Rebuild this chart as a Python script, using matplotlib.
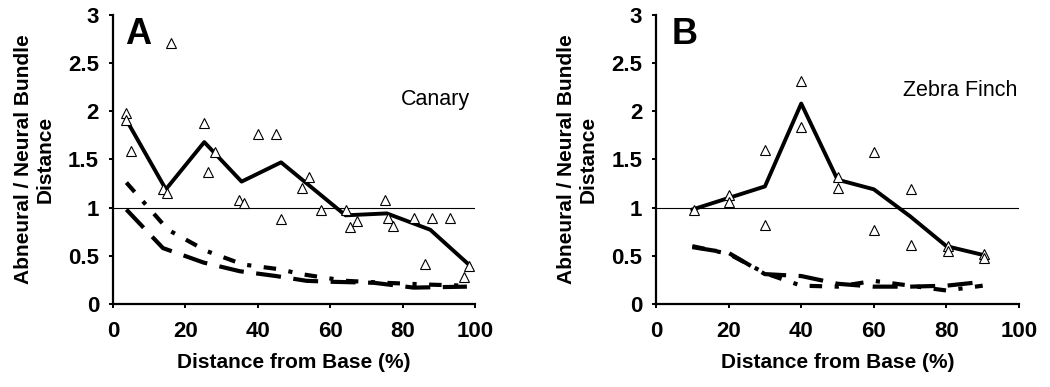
import matplotlib
matplotlib.use('Agg')
import matplotlib.pyplot as plt

plt.rcParams['font.family'] = ['Liberation Sans', 'DejaVu Sans']

# Panel A - Canary
canary_pts_x = [3.7, 3.7, 4.9, 15.9, 13.8, 15.0, 25.2, 26.1, 28.1, 34.8, 36.2, 40.1, 45.0, 46.4,
                52.1, 54.2, 57.3, 64.2, 65.3, 67.3, 75.1, 75.9, 77.2, 83.0, 86.0, 88.0, 93.1, 98.2, 97.0]
canary_pts_y = [1.98, 1.91, 1.59, 2.71, 1.19, 1.15, 1.88, 1.37, 1.58, 1.08, 1.05, 1.76, 1.76, 0.88,
                1.20, 1.32, 0.98, 0.98, 0.80, 0.86, 1.08, 0.89, 0.81, 0.89, 0.41, 0.89, 0.89, 0.39, 0.28]
canary_mean_x = [3.7, 14.6, 25.2, 35.5, 46.4, 64.2, 75.6, 87.6, 98.2]
canary_mean_y = [1.91, 1.19, 1.68, 1.27, 1.47, 0.92, 0.94, 0.77, 0.41]
canary_dash1_x = [3.7, 15.2, 25.8, 35.9, 46.0, 52.0, 57.1, 64.5, 75.0, 88.0, 97.7]
canary_dash1_y = [1.26, 0.77, 0.55, 0.41, 0.36, 0.31, 0.28, 0.24, 0.22, 0.20, 0.19]
canary_dash2_x = [3.7, 13.8, 25.0, 35.0, 45.0, 53.5, 60.8, 72.0, 83.0, 97.7]
canary_dash2_y = [0.98, 0.58, 0.43, 0.34, 0.29, 0.24, 0.23, 0.22, 0.17, 0.18]

# Panel B - Zebra Finch
zf_pts_x = [10.4, 20.0, 20.2, 30.1, 30.1, 40.0, 40.0, 50.0, 50.0, 60.0, 60.0, 70.2, 70.2, 80.3, 80.3, 90.4, 90.4]
zf_pts_y = [0.98, 1.13, 1.06, 1.60, 0.82, 2.31, 1.84, 1.32, 1.20, 1.58, 0.77, 1.19, 0.61, 0.60, 0.55, 0.52, 0.48]
zf_x = [10, 20, 30, 40, 50, 60, 70, 80, 90]
zf_mean_y = [0.98, 1.10, 1.22, 2.08, 1.29, 1.19, 0.91, 0.60, 0.51]
zf_dash1_y = [0.59, 0.53, 0.31, 0.29, 0.21, 0.18, 0.18, 0.19, 0.23]
zf_dash2_y = [0.60, 0.52, 0.32, 0.19, 0.18, 0.24, 0.19, 0.14, 0.19]

fig = plt.figure(figsize=(10.5, 3.87), dpi=100)
axA = fig.add_axes([0.1076, 0.2145, 0.345, 0.747])
axB = fig.add_axes([0.6248, 0.2145, 0.3457, 0.747])


def style(ax, letter, name, name_x, name_y, letter_x):
    ax.set_xlim(0, 100)
    ax.set_ylim(0, 3)
    ax.axhline(1, color='black', lw=0.8, zorder=1)
    for s in ['top', 'right']:
        ax.spines[s].set_visible(False)
    for s in ['left', 'bottom']:
        ax.spines[s].set_linewidth(1.6)
    ax.set_xticks([0, 20, 40, 60, 80, 100])
    ax.set_yticks([0, 0.5, 1, 1.5, 2, 2.5, 3])
    ax.set_yticklabels(['0', '0.5', '1', '1.5', '2', '2.5', '3'])
    ax.tick_params(direction='out', length=3, width=1.4, labelsize=16)
    ax.tick_params(axis='x', pad=9)
    ax.tick_params(axis='y', pad=7)
    for lab in ax.get_xticklabels() + ax.get_yticklabels():
        lab.set_fontweight('bold')
    ax.set_xlabel('Distance from Base (%)', fontsize=15, fontweight='bold', labelpad=8)
    ax.set_ylabel('Abneural / Neural Bundle\nDistance', fontsize=15, fontweight='bold',
                  linespacing=1.12, labelpad=10)
    ax.text(letter_x, 2.8, letter, fontsize=26, fontweight='bold', ha='center', va='center')
    ax.text(name_x, name_y, name, fontsize=15.5, ha='center', va='center')


# A
axA.plot(canary_dash1_x, canary_dash1_y, color='black', lw=3, dashes=(3, 3, 1, 3))
axA.plot(canary_dash2_x, canary_dash2_y, color='black', lw=3, dashes=(6, 3))
axA.plot(canary_mean_x, canary_mean_y, color='black', lw=2.8)
axA.plot(canary_pts_x, canary_pts_y, '^', ms=7, mfc='white', mec='black', mew=0.8)
style(axA, 'A', 'Canary', 89, 2.12, 6.9)

# B
axB.plot(zf_x, zf_dash1_y, color='black', lw=3, dashes=(6, 3))
axB.plot(zf_x, zf_dash2_y, color='black', lw=3, dashes=(3, 3, 1, 3))
axB.plot(zf_x, zf_mean_y, color='black', lw=2.8)
axB.plot(zf_pts_x, zf_pts_y, '^', ms=7, mfc='white', mec='black', mew=0.8)
style(axB, 'B', 'Zebra Finch', 83.7, 2.22, 8)

fig.savefig('out.png', dpi=100)
